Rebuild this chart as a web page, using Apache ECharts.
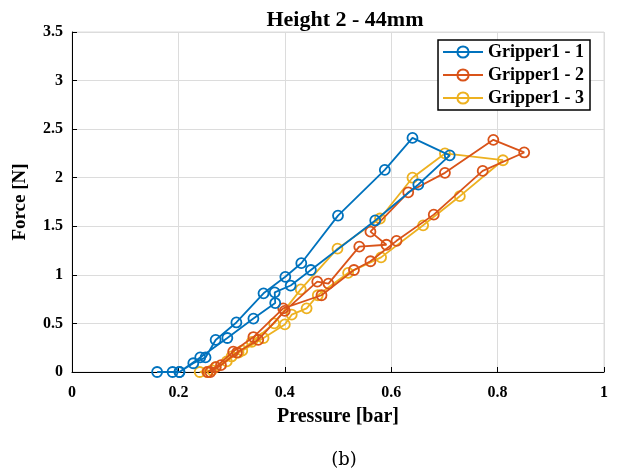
<!DOCTYPE html>
<html>
<head>
<meta charset="utf-8">
<script src="https://cdn.jsdelivr.net/npm/echarts@6/dist/echarts.min.js"></script>
<style>
html,body{margin:0;padding:0;background:#fff;}
#c{width:624px;height:476px;}
</style>
</head>
<body>
<div id="c"></div>
<script>
const xTicks = [0, 0.2, 0.4, 0.6, 0.8, 1];
const yTicks = [0, 0.5, 1, 1.5, 2, 2.5, 3, 3.5];
const seriesNames = ['Gripper1 - 1', 'Gripper1 - 2', 'Gripper1 - 3'];

const g1Pressure = [0.16,0.189,0.202,0.228,0.251,0.27,0.309,0.36,0.401,0.431,0.50,0.588,0.64,0.71,0.651,0.57,0.449,0.411,0.381,0.382,0.341,0.292,0.241,0.202];
const g1Force    = [0,0,0,0.09,0.15,0.33,0.51,0.81,0.98,1.12,1.61,2.08,2.41,2.23,1.93,1.56,1.05,0.89,0.82,0.71,0.55,0.35,0.15,0];

const g2Pressure = [0.255,0.27,0.303,0.341,0.397,0.469,0.53,0.561,0.61,0.68,0.772,0.85,0.792,0.701,0.632,0.561,0.591,0.54,0.482,0.461,0.40,0.35,0.31,0.28,0.26];
const g2Force    = [0,0.05,0.21,0.36,0.655,0.79,1.05,1.14,1.35,1.62,2.07,2.26,2.39,2.05,1.85,1.445,1.31,1.29,0.91,0.93,0.63,0.33,0.2,0.07,0];

const g3Pressure = [0.24,0.263,0.291,0.313,0.338,0.38,0.43,0.499,0.579,0.64,0.701,0.81,0.729,0.66,0.581,0.519,0.462,0.441,0.413,0.40,0.36,0.32,0.30,0.27,0.254];
const g3Force    = [0,0.02,0.11,0.2,0.31,0.5,0.85,1.27,1.58,2.0,2.25,2.18,1.81,1.51,1.18,1.02,0.79,0.655,0.59,0.49,0.35,0.22,0.16,0.05,0];

const colors = ['#0072BD', '#D95319', '#EDB120'];
const FONT = '"Liberation Serif", "Times New Roman", serif';

function pairs(xs, ys){ return xs.map((x,i)=>[x, ys[i]]); }
const allData = [pairs(g1Pressure,g1Force), pairs(g2Pressure,g2Force), pairs(g3Pressure,g3Force)];

const chart = echarts.init(document.getElementById('c'), null, {renderer:'canvas'});
chart.setOption({
  animation: false,
  backgroundColor: '#fff',
  title: [{
    text: 'Height 2 - 44mm',
    left: 340, top: 4, textAlign: 'center',
    textStyle: {fontFamily: FONT, fontWeight: 'bold', fontSize: 22, color: '#000'}
  },{
    text: '(b)',
    left: 339, top: 446, textAlign: 'center',
    textStyle: {fontFamily: '"DejaVu Serif", serif', fontWeight: 'normal', fontSize: 18, color: '#000'}
  }],
  legend: {
    orient: 'vertical',
    right: 34, top: 40,
    backgroundColor: '#fff',
    borderColor: '#000', borderWidth: 1.5,
    padding: [3, 6, 3, 4],
    itemGap: 5,
    itemWidth: 40, itemHeight: 14,
    data: seriesNames,
    textStyle: {fontFamily: FONT, fontWeight: 'bold', fontSize: 18, color: '#000'}
  },
  grid: {left: 72, right: 20, top: 32, bottom: 104, show: true, borderColor: '#dcdcdc', borderWidth: 1},
  xAxis: {
    type: 'value', min: 0, max: 1, interval: 0.2,
    name: 'Pressure [bar]', nameLocation: 'middle', nameGap: 35,
    nameTextStyle: {fontFamily: FONT, fontWeight: 'bold', fontSize: 20, color: '#000'},
    axisLine: {show: true, lineStyle: {color: '#000', width: 1}},
    axisTick: {show: true, inside: true, length: 5, lineStyle: {color: '#000'}},
    axisLabel: {fontFamily: FONT, fontWeight: 'bold', fontSize: 16, color: '#000', margin: 13,
      formatter: v => xTicks.includes(+v.toFixed(2)) ? String(+v.toFixed(2)) : ''},
    splitLine: {show: true, lineStyle: {color: '#dcdcdc', width: 1}}
  },
  yAxis: {
    type: 'value', min: 0, max: 3.5, interval: 0.5,
    name: 'Force [N]', nameLocation: 'middle', nameGap: 42, nameRotate: 90,
    nameTextStyle: {fontFamily: FONT, fontWeight: 'bold', fontSize: 19, color: '#000'},
    axisLine: {show: true, lineStyle: {color: '#000', width: 1}},
    axisTick: {show: true, inside: true, length: 5, lineStyle: {color: '#000'}},
    axisLabel: {fontFamily: FONT, fontWeight: 'bold', fontSize: 16, color: '#000', margin: 9,
      formatter: v => yTicks.includes(+v.toFixed(2)) ? String(+v.toFixed(2)) : ''},
    splitLine: {show: true, lineStyle: {color: '#dcdcdc', width: 1}}
  },
  series: seriesNames.map((n, i) => ({
    name: n, type: 'line', data: allData[i],
    symbol: 'circle', symbolSize: 10, showSymbol: true,
    color: colors[i],
    lineStyle: {color: colors[i], width: 1.8},
    itemStyle: {color: 'rgba(255,255,255,0)', borderColor: colors[i], borderWidth: 1.8},
    z: 10 - i
  }))
});
</script>
</body>
</html>
